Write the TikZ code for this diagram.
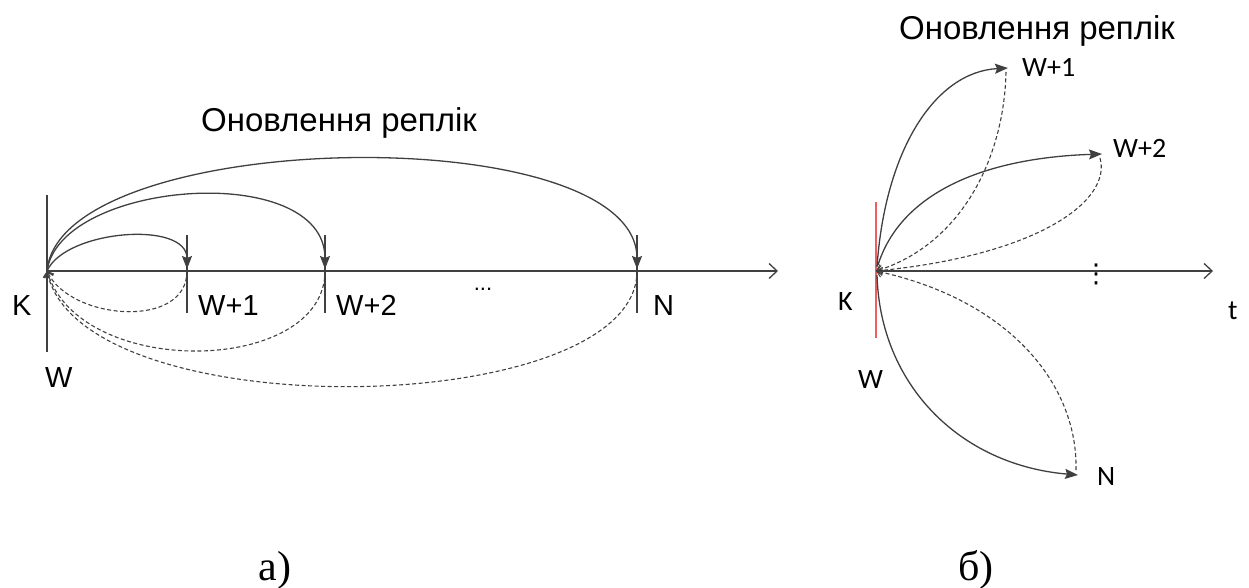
\documentclass[tikz,border=0pt]{standalone}
\usepackage{fontspec}
\setmainfont{Liberation Sans}
\newfontfamily\calfont{Carlito}
\newfontfamily\serfont{Liberation Serif}
\newfontfamily\djfont{DejaVu Sans}
\usetikzlibrary{arrows.meta}
\definecolor{ln}{RGB}{64,64,64}
\definecolor{rd}{RGB}{240,95,95}
\begin{document}
\begin{tikzpicture}[x=1pt,y=-1pt,
  ln/.style={draw=ln,line width=1.3pt},
  axis/.style={ln,-{Straight Barb[length=8pt,width=15pt,line width=1.3pt]}},
  sol/.style={ln,-{Stealth[length=13pt,width=10pt,inset=2pt]}},
  dsh/.style={ln,line width=1.1pt,dash pattern=on 4pt off 2.5pt,-{Straight Barb[length=5pt,width=10pt,line width=1pt]}},
  lab/.style={font=\fontsize{29}{30}\selectfont,text=black,inner sep=0pt},
  rlab/.style={font=\calfont\fontsize{28}{30}\selectfont,text=black,inner sep=0pt},
  ttl/.style={font=\fontsize{33}{36}\selectfont,text=black,inner sep=0pt},
  captxt/.style={font=\serfont\fontsize{42}{44}\selectfont,text=black,inner sep=0pt}
]
\useasboundingbox (0,0) rectangle (1249,588);
% ---------- left diagram ----------
\coordinate (O) at (47,271);
\coordinate (AE) at (778,271);
\coordinate (T1) at (187,271);
\coordinate (T2) at (325,271);
\coordinate (T3) at (637,271);
\coordinate (VT) at (47,195);
\coordinate (VB) at (47,352);
\draw[axis] (O) -- (AE);
\draw[ln] (VT) -- (VB);
\draw[ln] (187,235) -- (187,313);
\draw[ln] (325,235) -- (325,313);
\draw[ln] (637,235) -- (637,313);
\draw[sol] (O) .. controls (65,230) and (187,220) .. (187,269);
\draw[sol] (O) .. controls (60,180) and (325,160) .. (325,269);
\draw[sol] (O) .. controls (60,127) and (637,117) .. (637,269);
\draw[dsh] (T1) .. controls (187,330) and (70,320) .. (O);
\draw[dsh] (T2) .. controls (325,375) and (80,380) .. (O);
\draw[dsh] (T3) .. controls (637,420) and (80,430) .. (O);
\node[ttl,anchor=base west] (tl) at (201,132) {Оновлення реплік};
\node[lab,anchor=base west] (k) at (12,315) {K};
\node[lab,anchor=base west] (w) at (45,387) {W};
\node[lab,anchor=base west] (w1) at (198,315) {W+1};
\node[lab,anchor=base west] (w2) at (336,315) {W+2};
\node[lab,anchor=base west] (n) at (653,315) {N};
\node[font=\fontsize{22}{22}\selectfont,inner sep=0pt] (dots) at (483,289) {...};
% ---------- right diagram ----------
\coordinate (R) at (876,271);
\coordinate (RE) at (1213,271);
\coordinate (P1) at (1008,68);
\coordinate (P2) at (1102,154);
\coordinate (P3) at (1078,475);
\draw[axis] (R) -- (RE);
\draw[draw=rd,line width=2pt] (876,202) -- (876,338);
\draw[sol] (877,267) .. controls (885,150) and (935,72) .. (P1);
\draw[dsh] (1006,72) .. controls (1004,160) and (960,245) .. (R);
\draw[sol] (878,265) .. controls (900,195) and (980,158) .. (P2);
\draw[dsh] (1100,158) .. controls (1112,200) and (1040,255) .. (R);
\draw[sol] (877,275) .. controls (880,385) and (960,465) .. (P3);
\draw[dsh] (1076,470) .. controls (1078,385) and (1010,300) .. (R);
\node[ttl,anchor=base west] (tr) at (899,40) {Оновлення реплік};
\node[rlab,anchor=base west] (rk) at (838,310) {K};
\node[rlab,anchor=base west] (rw) at (858,388) {W};
\node[rlab,anchor=base west] (rw1) at (1022,77) {W+1};
\node[rlab,anchor=base west] (rw2) at (1113,158) {W+2};
\node[rlab,anchor=base west] (rn) at (1097,485) {N};
\node[rlab,anchor=base west] (rt) at (1228,319) {t};
\node[font=\djfont\fontsize{26}{26}\selectfont,inner sep=0pt] (vd) at (1096,274) {⋮};
% ---------- captions ----------
\node[captxt,anchor=base] (ca) at (275,580) {а)};
\node[captxt,anchor=base] (cb) at (976,580) {б)};
\end{tikzpicture}
\end{document}
